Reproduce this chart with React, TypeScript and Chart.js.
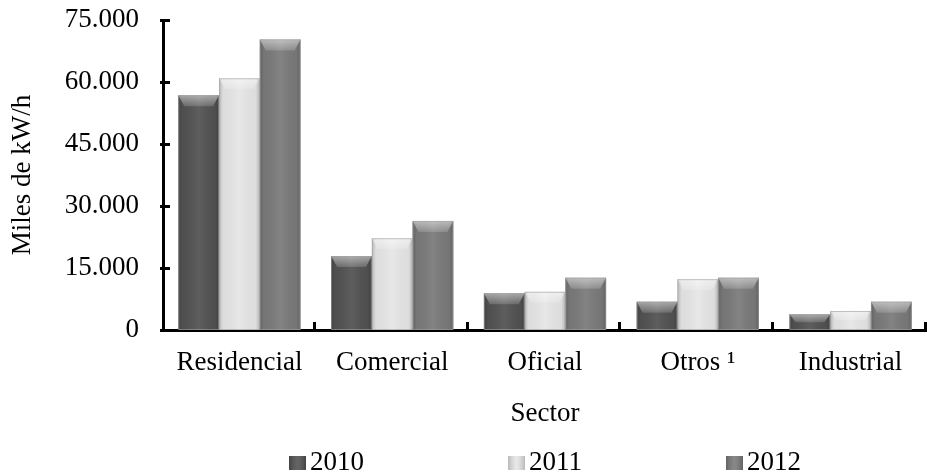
import React, { useEffect, useRef } from 'react';
import { Chart, registerables } from 'chart.js';

Chart.register(...registerables);

const categories = ['Residencial', 'Comercial', 'Oficial', 'Otros ¹', 'Industrial'];
const seriesLabels = ['2010', '2011', '2012'];
const values2010 = [56800, 17900, 8900, 6850, 3800];
const values2011 = [60900, 22200, 9250, 12300, 4600];
const values2012 = [70300, 26400, 12650, 12650, 6850];
const yTickValues = [0, 15000, 30000, 45000, 60000, 75000];
const yAxisTitle = 'Miles de kW/h';
const xAxisTitle = 'Sector';
const seriesColors = ['#525252', '#e6e6e6', '#7a7a7a'];

const FONT_FAMILY = '"Liberation Serif", "Times New Roman", serif';
const FONT_SIZE = 27;

const formatThousands = (v: number) =>
  String(Math.round(v)).replace(/\B(?=(\d{3})+(?!\d))/g, '.');

const bevelPlugin = {
  id: 'bevelBars',
  afterDatasetsDraw(chart: any) {
    const ctx = chart.ctx;
    chart.data.datasets.forEach((_ds: any, di: number) => {
      const meta = chart.getDatasetMeta(di);
      meta.data.forEach((el: any) => {
        const { x, y, base, width } = el.getProps(['x', 'y', 'base', 'width'], true);
        const l = x - width / 2;
        const r = x + width / 2;
        const t = Math.min(y, base);
        const b = Math.max(y, base);
        const h = b - t;
        if (h <= 0) return;
        ctx.save();
        const g = ctx.createLinearGradient(l, 0, r, 0);
        g.addColorStop(0, 'rgba(0,0,0,0.20)');
        g.addColorStop(0.1, 'rgba(0,0,0,0.04)');
        g.addColorStop(0.5, 'rgba(255,255,255,0.07)');
        g.addColorStop(0.9, 'rgba(0,0,0,0.04)');
        g.addColorStop(1, 'rgba(0,0,0,0.20)');
        ctx.fillStyle = g;
        ctx.fillRect(l, t, width, h);
        const bev = Math.min(11, h / 2);
        const side = Math.min(6, width / 6);
        ctx.beginPath();
        ctx.moveTo(l, t);
        ctx.lineTo(r, t);
        ctx.lineTo(r - side, t + bev);
        ctx.lineTo(l + side, t + bev);
        ctx.closePath();
        const tg = ctx.createLinearGradient(0, t, 0, t + bev);
        tg.addColorStop(0, 'rgba(255,255,255,0.5)');
        tg.addColorStop(1, 'rgba(255,255,255,0.15)');
        ctx.fillStyle = tg;
        ctx.fill();
        ctx.strokeStyle = 'rgba(160,160,160,0.6)';
        ctx.lineWidth = 1;
        ctx.strokeRect(l + 0.5, t + 0.5, width - 1, h - 1);
        ctx.restore();
      });
    });
  },
};

const axisTicksPlugin = {
  id: 'axisTicks',
  afterDraw(chart: any) {
    const ctx = chart.ctx;
    const { left, bottom } = chart.chartArea;
    const yScale = chart.scales.y;
    const xScale = chart.scales.x;
    ctx.save();
    ctx.strokeStyle = '#000';
    ctx.lineWidth = 3;
    yTickValues.forEach((v) => {
      const py = Math.round(yScale.getPixelForValue(v));
      ctx.beginPath();
      ctx.moveTo(left - 3, py + 0.5);
      ctx.lineTo(left + 7, py + 0.5);
      ctx.stroke();
    });
    for (let i = 1; i <= categories.length; i++) {
      const px = Math.round(xScale.getPixelForValue(i - 0.5));
      ctx.beginPath();
      ctx.moveTo(px - 1.5, bottom - 8);
      ctx.lineTo(px - 1.5, bottom + 1);
      ctx.stroke();
    }
    ctx.restore();
  },
};

const legendPlugin = {
  id: 'customLegend',
  afterDraw(chart: any) {
    const ctx = chart.ctx;
    const { left, right } = chart.chartArea;
    ctx.save();
    ctx.font = `${FONT_SIZE}px ${FONT_FAMILY}`;
    ctx.textBaseline = 'middle';
    ctx.textAlign = 'left';
    const boxW = 17;
    const boxH = 14;
    const gap = 4;
    const spacing = 144;
    const items = chart.data.datasets.map((ds: any) => ({
      label: ds.label,
      color: ds.backgroundColor,
      tw: ctx.measureText(ds.label).width,
    }));
    const widths = items.map((it: any) => boxW + gap + it.tw);
    const total = widths.reduce((a: number, b: number) => a + b, 0) + spacing * (items.length - 1);
    let x = (left + right) / 2 - total / 2;
    const cy = chart.height - 11;
    items.forEach((it: any, i: number) => {
      ctx.fillStyle = it.color;
      ctx.fillRect(x, cy - boxH / 2, boxW, boxH);
      const g = ctx.createLinearGradient(x, 0, x + boxW, 0);
      g.addColorStop(0, 'rgba(0,0,0,0.2)');
      g.addColorStop(0.5, 'rgba(255,255,255,0.1)');
      g.addColorStop(1, 'rgba(0,0,0,0.2)');
      ctx.fillStyle = g;
      ctx.fillRect(x, cy - boxH / 2, boxW, boxH);
      ctx.fillStyle = '#000';
      ctx.fillText(it.label, x + boxW + gap, cy);
      x += widths[i] + spacing;
    });
    ctx.restore();
  },
};

export default function App() {
  const canvasRef = useRef<HTMLCanvasElement | null>(null);

  useEffect(() => {
    document.body.style.margin = '0';
    const canvas = canvasRef.current;
    if (!canvas) return;
    const seriesValues = [values2010, values2011, values2012];
    const chart = new Chart(canvas, {
      type: 'bar',
      data: {
        labels: categories,
        datasets: seriesLabels.map((label, i) => ({
          label,
          data: seriesValues[i],
          backgroundColor: seriesColors[i],
          borderWidth: 0,
          barPercentage: 1,
          categoryPercentage: 0.8,
        })),
      },
      options: {
        responsive: false,
        animation: false,
        events: [],
        layout: { padding: { top: 0, right: 0, bottom: 0, left: 0 } },
        plugins: {
          legend: { display: false },
          tooltip: { enabled: false },
          title: { display: false },
        },
        scales: {
          x: {
            type: 'category',
            offset: true,
            grid: { display: false, drawTicks: false, offset: true },
            border: { display: true, color: '#000', width: 3 },
            ticks: {
              color: '#000',
              font: { family: FONT_FAMILY, size: FONT_SIZE },
              padding: 17,
              maxRotation: 0,
              minRotation: 0,
              autoSkip: false,
            },
            title: {
              display: true,
              text: xAxisTitle,
              color: '#000',
              font: { family: FONT_FAMILY, size: FONT_SIZE },
              padding: { top: 0, bottom: 44 },
            },
            afterFit: (scale: any) => {
              scale.height = 144;
            },
          },
          y: {
            type: 'linear',
            min: 0,
            max: 75000,
            grid: { display: false, drawTicks: false },
            border: { display: true, color: '#000', width: 3 },
            afterBuildTicks: (scale: any) => {
              scale.ticks = yTickValues.map((v) => ({ value: v }));
            },
            ticks: {
              color: '#000',
              font: { family: FONT_FAMILY, size: FONT_SIZE },
              padding: 24,
              callback: (v: any) => formatThousands(Number(v)),
            },
            title: {
              display: true,
              text: yAxisTitle,
              color: '#000',
              font: { family: FONT_FAMILY, size: FONT_SIZE },
              padding: { top: 7, bottom: 0 },
            },
            afterFit: (scale: any) => {
              scale.width = 163;
              scale.paddingTop = 20;
              scale.paddingBottom = 0;
            },
          },
        },
      },
      plugins: [bevelPlugin, axisTicksPlugin, legendPlugin],
    } as any);
    return () => chart.destroy();
  }, []);

  return (
    <div style={{ width: 927, height: 474 }}>
      <canvas ref={canvasRef} width={927} height={474} style={{ display: 'block', width: 927, height: 474 }} />
    </div>
  );
}
